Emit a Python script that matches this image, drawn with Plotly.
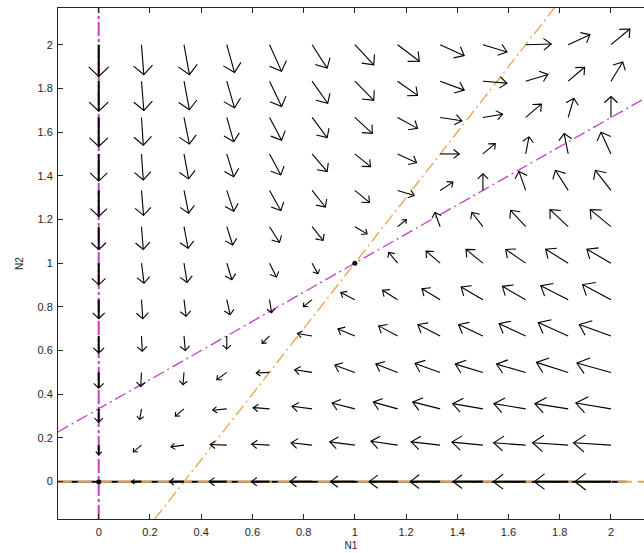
import plotly.graph_objects as go

# grid of arrow tails
N1_vals = [0.0, 0.167, 0.333, 0.5, 0.667, 0.833, 1.0, 1.167, 1.333, 1.5, 1.667, 1.833, 2.0]
N2_vals = [0.0, 0.167, 0.333, 0.5, 0.667, 0.833, 1.0, 1.167, 1.333, 1.5, 1.667, 1.833, 2.0]

# displayed arrow components (data units), rows follow N2_vals, columns follow N1_vals
U = [
    [0, -0.039, -0.057, -0.069, -0.071, -0.087, -0.095, -0.111, -0.117, -0.116, -0.126, -0.132, -0.141],
    [0, -0.032, -0.051, -0.065, -0.070, -0.082, -0.098, -0.104, -0.113, -0.121, -0.125, -0.139, -0.146],
    [0, -0.007, -0.034, -0.055, -0.064, -0.078, -0.089, -0.095, -0.107, -0.118, -0.124, -0.130, -0.137],
    [0, -0.003, -0.004, -0.039, -0.052, -0.068, -0.078, -0.085, -0.098, -0.108, -0.114, -0.124, -0.133],
    [0, 0.003, 0.005, 0.0, -0.029, -0.057, -0.066, -0.074, -0.087, -0.095, -0.104, -0.117, -0.124],
    [0, 0.005, 0.008, 0.013, 0.008, -0.034, -0.055, -0.059, -0.071, -0.085, -0.091, -0.107, -0.111],
    [0, 0.010, 0.012, 0.020, 0.027, 0.023, 0.0, -0.035, -0.055, -0.066, -0.078, -0.088, -0.094],
    [0, 0.007, 0.016, 0.023, 0.039, 0.043, 0.048, 0.034, -0.020, -0.043, -0.059, -0.071, -0.081],
    [0, 0.008, 0.018, 0.027, 0.044, 0.052, 0.057, 0.065, 0.050, 0.0, -0.026, -0.050, -0.061],
    [0, 0.007, 0.018, 0.027, 0.044, 0.059, 0.061, 0.074, 0.075, 0.048, 0.013, -0.016, -0.039],
    [0, 0.007, 0.021, 0.027, 0.047, 0.059, 0.068, 0.078, 0.085, 0.077, 0.061, 0.022, 0.0],
    [0, 0.009, 0.021, 0.030, 0.047, 0.061, 0.074, 0.078, 0.094, 0.094, 0.087, 0.064, 0.046],
    [0, 0.009, 0.021, 0.030, 0.047, 0.059, 0.074, 0.085, 0.094, 0.094, 0.100, 0.085, 0.074],
]
V = [
    [0, 0, 0, 0, 0, 0, 0, 0, 0, 0, 0, 0, 0],
    [-0.043, -0.031, -0.008, 0.003, 0.005, 0.011, 0.015, 0.018, 0.015, 0.014, 0.011, 0.011, 0.011],
    [-0.061, -0.049, -0.033, -0.006, 0.006, 0.012, 0.027, 0.031, 0.032, 0.024, 0.024, 0.024, 0.027],
    [-0.072, -0.064, -0.056, -0.033, -0.003, 0.012, 0.033, 0.038, 0.041, 0.038, 0.038, 0.046, 0.043],
    [-0.078, -0.070, -0.067, -0.060, -0.034, 0.011, 0.032, 0.046, 0.052, 0.052, 0.056, 0.061, 0.052],
    [-0.087, -0.087, -0.076, -0.069, -0.060, -0.032, 0.033, 0.043, 0.050, 0.058, 0.061, 0.064, 0.069],
    [-0.099, -0.092, -0.088, -0.076, -0.064, -0.049, 0.0, 0.049, 0.055, 0.063, 0.063, 0.064, 0.064],
    [-0.105, -0.104, -0.099, -0.084, -0.072, -0.063, -0.033, 0.032, 0.065, 0.065, 0.075, 0.078, 0.078],
    [-0.119, -0.114, -0.104, -0.095, -0.092, -0.076, -0.055, -0.023, 0.038, 0.076, 0.087, 0.092, 0.092],
    [-0.124, -0.119, -0.114, -0.104, -0.096, -0.081, -0.058, -0.040, 0.0, 0.047, 0.078, 0.093, 0.099],
    [-0.133, -0.127, -0.122, -0.111, -0.104, -0.092, -0.073, -0.050, -0.015, 0.015, 0.061, 0.088, 0.096],
    [-0.137, -0.134, -0.131, -0.122, -0.116, -0.101, -0.088, -0.065, -0.041, -0.009, 0.031, 0.064, 0.088],
    [-0.145, -0.137, -0.137, -0.127, -0.122, -0.107, -0.092, -0.076, -0.050, -0.033, 0.003, 0.046, 0.072],
]

# nullclines
n1_null_x = [-0.16, 2.13]
n1_null_y = [0.227, 1.753]
n1_axis_x = [0.0, 0.0]
n1_axis_y = [-0.171, 2.168]
n2_null_x = [0.219, 1.779]
n2_null_y = [-0.171, 2.168]
n2_axis_x = [-0.16, 2.13]
n2_axis_y = [0.0, 0.0]

# black line along N2 = 0
base_x = [-0.16, 2.06]
base_y = [0.0, 0.0]

eq_x = [0.0, 1.0]
eq_y = [0.0, 1.0]

x_ticks = [0, 0.2, 0.4, 0.6, 0.8, 1, 1.2, 1.4, 1.6, 1.8, 2]
x_tick_text = ["0", "0.2", "0.4", "0.6", "0.8", "1", "1.2", "1.4", "1.6", "1.8", "2"]
y_ticks = [0, 0.2, 0.4, 0.6, 0.8, 1, 1.2, 1.4, 1.6, 1.8, 2]
y_tick_text = ["0", "0.2", "0.4", "0.6", "0.8", "1", "1.2", "1.4", "1.6", "1.8", "2"]

MAGENTA = "#c33fc3"
ORANGE = "#e8a34a"

# build arrows: shafts and heads; shafts on the axes drawn bolder
HEAD_LEN = 0.30
HEAD_W = 0.27
shaft_x, shaft_y = [], []
axshaft_x, axshaft_y = [], []
head_x, head_y = [], []
for j, y0 in enumerate(N2_vals):
    for i, x0 in enumerate(N1_vals):
        u = U[j][i]
        v = V[j][i]
        if u == 0 and v == 0:
            continue
        on_axis = (i == 0 or j == 0)
        xs, ys = (axshaft_x, axshaft_y) if on_axis else (shaft_x, shaft_y)
        tx, ty = x0 + u, y0 + v
        xs += [x0, tx, None]
        ys += [y0, ty, None]
        hx, hy = tx - HEAD_LEN * u, ty - HEAD_LEN * v
        px, py = -v * HEAD_W, u * HEAD_W
        head_x += [hx + px, tx, hx - px, None]
        head_y += [hy + py, ty, hy - py, None]

DASHDOT = "12px,4px,2px,4px"
fig = go.Figure()
fig.add_trace(go.Scatter(x=base_x, y=base_y, mode="lines",
                         line=dict(color="black", width=2), hoverinfo="skip"))
fig.add_trace(go.Scatter(x=n1_null_x, y=n1_null_y, mode="lines",
                         line=dict(color=MAGENTA, width=1.3, dash=DASHDOT), hoverinfo="skip"))
fig.add_trace(go.Scatter(x=n1_axis_x, y=n1_axis_y, mode="lines",
                         line=dict(color=MAGENTA, width=2, dash="14px,3px,3px,3px"), hoverinfo="skip"))
fig.add_trace(go.Scatter(x=n2_null_x, y=n2_null_y, mode="lines",
                         line=dict(color=ORANGE, width=1.3, dash=DASHDOT), hoverinfo="skip"))
fig.add_trace(go.Scatter(x=n2_axis_x, y=n2_axis_y, mode="lines",
                         line=dict(color=ORANGE, width=2, dash="14px,6px"), hoverinfo="skip"))
fig.add_trace(go.Scatter(x=shaft_x, y=shaft_y, mode="lines",
                         line=dict(color="black", width=1.1), hoverinfo="skip"))
fig.add_trace(go.Scatter(x=axshaft_x, y=axshaft_y, mode="lines",
                         line=dict(color="black", width=2), hoverinfo="skip"))
fig.add_trace(go.Scatter(x=head_x, y=head_y, mode="lines",
                         line=dict(color="black", width=1.1), hoverinfo="skip"))
fig.add_trace(go.Scatter(x=eq_x, y=eq_y, mode="markers",
                         marker=dict(color="black", size=5), hoverinfo="skip"))

axis_font = dict(family="Liberation Sans, Arial, sans-serif", size=11, color="#262626")
fig.update_layout(
    width=644, height=553,
    margin=dict(l=58, r=0, t=8, b=34),
    paper_bgcolor="white", plot_bgcolor="white",
    showlegend=False,
    font=axis_font,
)
fig.update_xaxes(
    range=[-0.159, 2.129], tickvals=x_ticks, ticktext=x_tick_text,
    showgrid=False, zeroline=False, showline=True, linecolor="#262626", linewidth=1,
    mirror="ticks", ticks="inside", ticklen=5, tickcolor="#262626",
    ticklabelstandoff=3,
    title=dict(text="N1", font=dict(size=10), standoff=4),
)
fig.update_yaxes(
    range=[-0.171, 2.168], tickvals=y_ticks, ticktext=y_tick_text,
    showgrid=False, zeroline=False, showline=True, linecolor="#262626", linewidth=1,
    mirror=False, ticks="inside", ticklen=5, tickcolor="#262626",
    ticklabelstandoff=2,
    title=dict(text="N2", font=dict(size=10), standoff=12),
)

fig.write_html("out.html")
